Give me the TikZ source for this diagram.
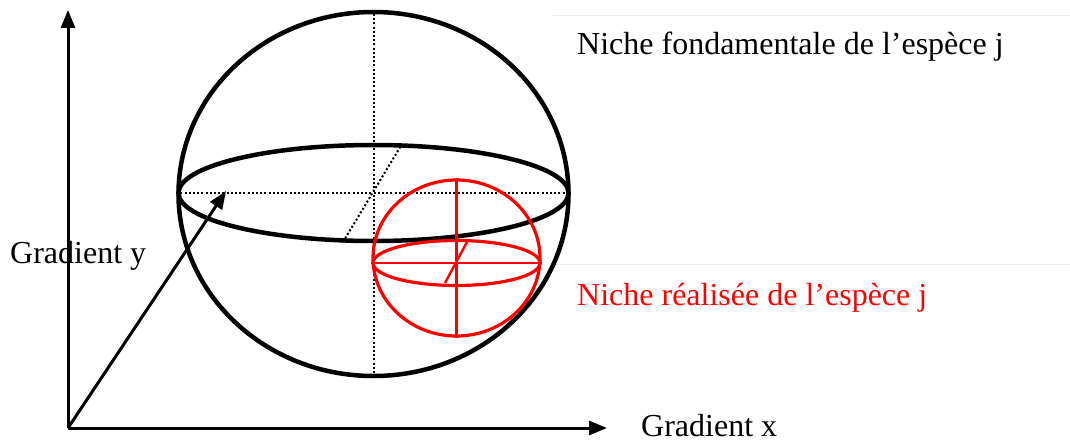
\documentclass[tikz,border=0pt]{standalone}
\usepackage{fontspec}
\setmainfont{Liberation Serif}
\usetikzlibrary{arrows.meta,shapes.geometric}
\definecolor{nred}{RGB}{255,0,0}
\tikzset{
  sph/.style={draw=black,line width=4.5pt,ellipse,inner sep=0pt},
  rsph/.style={draw=nred,line width=3.2pt,ellipse,inner sep=0pt},
  dot/.style={line width=2pt,dash pattern=on 2pt off 2.2pt},
  axis/.style={line width=3pt,-{Triangle[length=18pt,width=14pt]}},
  rline/.style={draw=nred,line width=2.4pt},
  lbl/.style={font=\fontsize{32}{36}\selectfont,anchor=base west,inner sep=0pt},
  faint/.style={draw=black!8,line width=0.8pt}
}
\begin{document}
\begin{tikzpicture}[x=1pt,y=-1pt]
\useasboundingbox (0,0) rectangle (1070,441);
% faint text-box borders
\draw[faint] (553,15) -- (1070,15);
\draw[faint] (553,264) -- (1070,264);
% axes
\coordinate (O) at (68,428);
\coordinate (Ytop) at (68,10);
\coordinate (Xend) at (607,428);
\coordinate (D) at (226,191);
\draw[axis] (O) -- (Ytop);
\draw[axis] (O) -- (Xend);
\draw[axis] (O) -- (D);
% big sphere
\node[sph,minimum width=390pt,minimum height=364pt] (big) at (373.5,194) {};
\node[sph,minimum width=390pt,minimum height=96pt] (eq) at (373.5,193) {};
\draw[dot] (big.north) -- (big.south);
\draw[dot] (eq.west) -- (eq.east);
\coordinate (d1) at (343,242);
\coordinate (d2) at (402,144);
\draw[dot] (d1) -- (d2);
% red sphere
\node[rsph,minimum width=167pt,minimum height=156pt] (red) at (456.5,258) {};
\node[rsph,minimum width=167pt,minimum height=45pt] (req) at (456.5,263) {};
\draw[rline] (red.north) -- (red.south);
\draw[rline] (req.west) -- (req.east);
\coordinate (r1) at (445,283);
\coordinate (r2) at (467,242);
\draw[rline] (r1) -- (r2);
% labels
\node[lbl] (ly) at (10,263) {Gradient y};
\node[lbl] (lx) at (641,436) {Gradient x};
\node[lbl] (lf) at (577,55) {Niche fondamentale de l’espèce j};
\node[lbl,text=nred] (lr) at (577,305) {Niche réalisée de l’espèce j};
\end{tikzpicture}
\end{document}
